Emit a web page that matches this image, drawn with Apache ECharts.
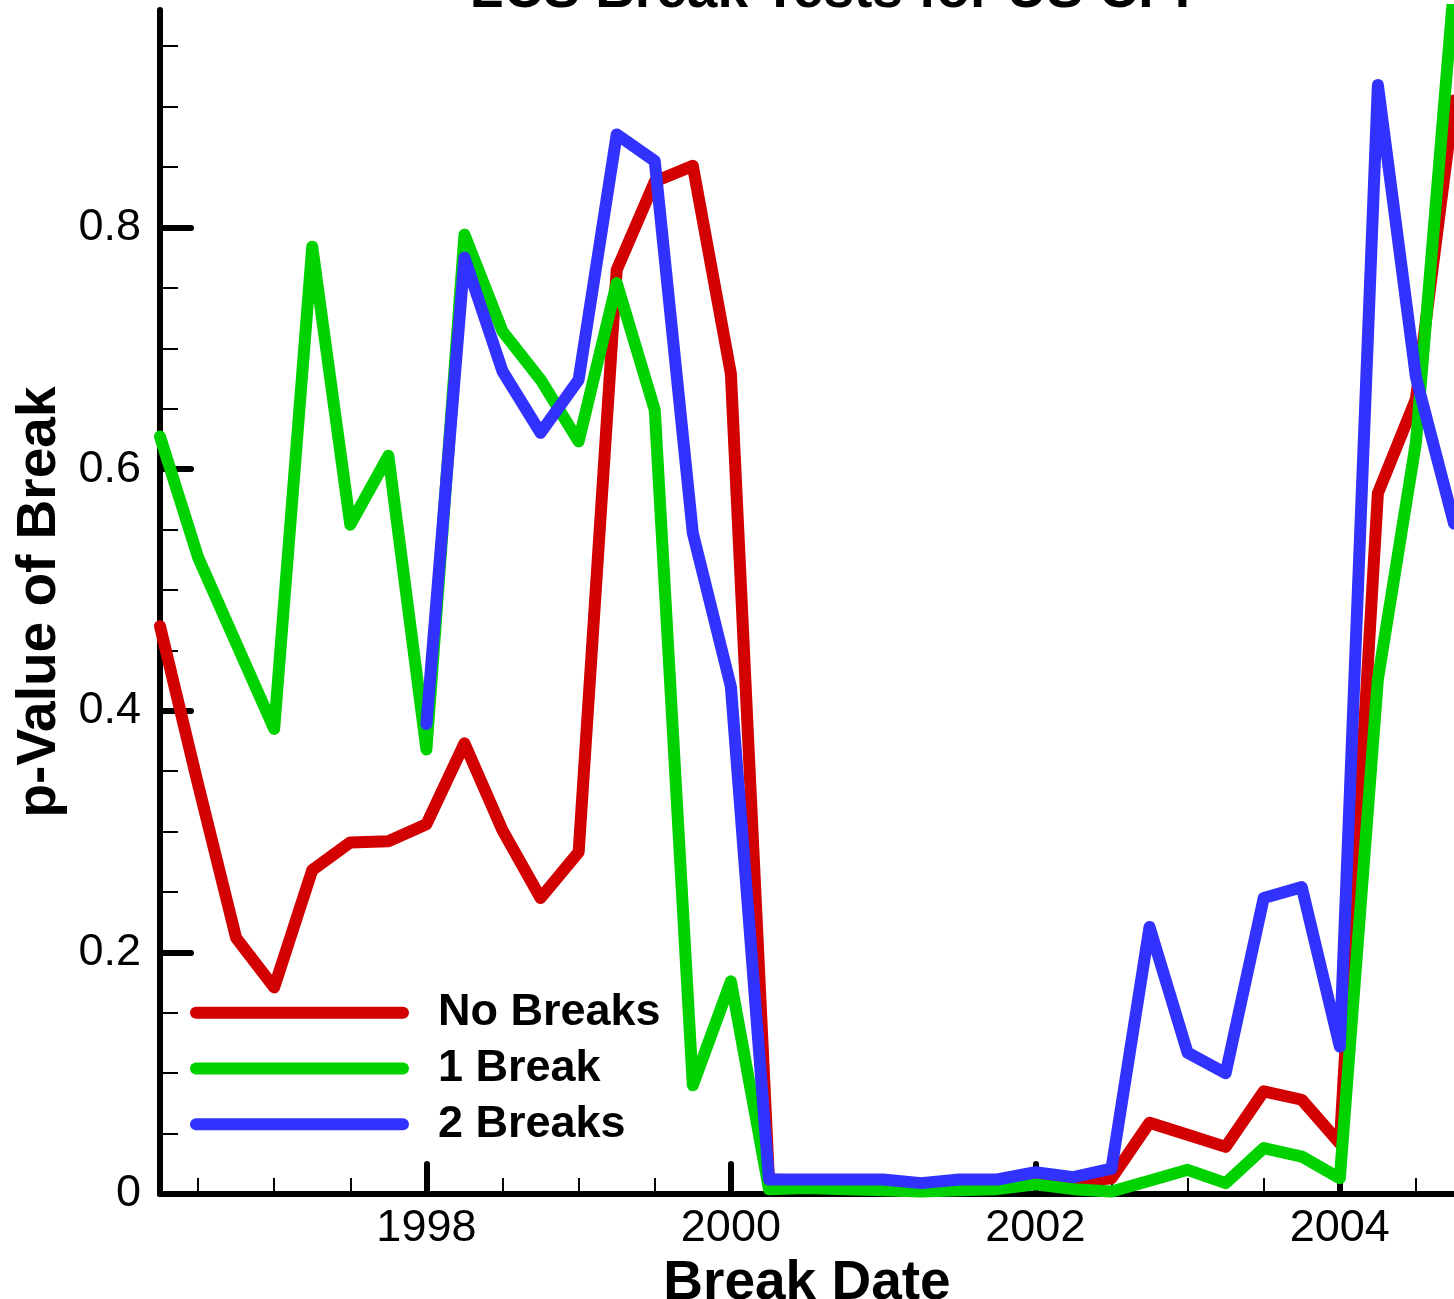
<!DOCTYPE html>
<html>
<head>
<meta charset="utf-8">
<title>LCS Break Tests for US CPI</title>
<script src="https://cdn.jsdelivr.net/npm/echarts@6/dist/echarts.min.js"></script>
<style>
  html, body { margin: 0; padding: 0; background: #ffffff; }
  #chart { width: 1454px; height: 1299px; }
</style>
</head>
<body>
<div id="chart"></div>
<script>
// Quarterly break dates
const breakDates = [
  1996.25, 1996.5, 1996.75, 1997.0, 1997.25, 1997.5, 1997.75,
  1998.0, 1998.25, 1998.5, 1998.75, 1999.0, 1999.25, 1999.5, 1999.75,
  2000.0, 2000.25, 2000.5, 2000.75, 2001.0, 2001.25, 2001.5, 2001.75,
  2002.0, 2002.25, 2002.5, 2002.75, 2003.0, 2003.25, 2003.5, 2003.75,
  2004.0, 2004.25, 2004.5, 2004.75
];

// p-values, no breaks allowed under the null
const noBreaks = [
  0.470, 0.339, 0.212, 0.171, 0.268, 0.291, 0.292,
  0.306, 0.373, 0.301, 0.245, 0.283, 0.765, 0.838, 0.851,
  0.679, 0.012, 0.011, 0.010, 0.009, 0.007, 0.009, 0.009,
  0.013, 0.010, 0.013, 0.059, 0.049, 0.039, 0.085, 0.078,
  0.042, 0.580, 0.658, 0.905
];

// p-values, one break allowed
const oneBreak = [
  0.627, 0.527, 0.456, 0.385, 0.784, 0.554, 0.611,
  0.368, 0.794, 0.714, 0.674, 0.623, 0.754, 0.649, 0.090,
  0.176, 0.004, 0.005, 0.004, 0.003, 0.002, 0.003, 0.004,
  0.008, 0.004, 0.002, 0.011, 0.020, 0.009, 0.038, 0.031,
  0.013, 0.426, 0.622, 1.000
];

// p-values, two breaks allowed (available from 1998 on)
const twoBreaksStart = 1998.0;
const twoBreaks = [
  0.389, 0.775, 0.681, 0.630, 0.674, 0.877, 0.855, 0.547,
  0.420, 0.012, 0.012, 0.012, 0.012, 0.009, 0.012, 0.012,
  0.018, 0.014, 0.021, 0.221, 0.117, 0.100, 0.245, 0.254,
  0.122, 0.918, 0.676, 0.555
];

// Axis ticks and labels
const xLabelYears = [1998, 2000, 2002, 2004];
const xMinorTicks = [1996.5, 1997, 1997.5, 1998.5, 1999, 1999.5, 2000.5, 2001, 2001.5,
                     2002.5, 2003, 2003.5, 2004.5];
const yLabelValues = [0, 0.2, 0.4, 0.6, 0.8];
const yMinorTicks = [0.05, 0.1, 0.15, 0.25, 0.3, 0.35, 0.45, 0.5, 0.55,
                     0.65, 0.7, 0.75, 0.85, 0.9, 0.95];

const FONT = '"Liberation Sans", Arial, Helvetica, sans-serif';

function pairs(xs, ys) {
  return ys.map((v, i) => [xs[i], v]);
}
const twoBreakDates = breakDates.slice(breakDates.indexOf(twoBreaksStart));

// Rounded-end stroke used as the legend key
const capsule = 'path://M6,0H213A6,6,0,0,1,213,12H6A6,6,0,0,1,6,0Z';

function lineSeries(name, color, data) {
  return {
    name: name,
    type: 'line',
    xAxisIndex: 0,
    yAxisIndex: 0,
    data: data,
    showSymbol: false,
    symbol: 'none',
    clip: true,
    color: color,
    lineStyle: { color: color, width: 12, cap: 'round', join: 'round' },
    emphasis: { disabled: true }
  };
}

const chart = echarts.init(document.getElementById('chart'), null, { renderer: 'canvas' });

const xMin = breakDates[0];
const xMax = breakDates[breakDates.length - 1];

chart.setOption({
  animation: false,
  backgroundColor: '#ffffff',
  title: {
    text: 'LCS Break Tests for US CPI',
    left: 830,
    top: -36,
    textAlign: 'center',
    padding: 0,
    textStyle: { fontFamily: FONT, fontSize: 55, fontWeight: 'bold', color: '#000' }
  },
  grid: {
    left: 160, right: 0, top: 10, bottom: 105,
    containLabel: false, outerBoundsMode: 'none'
  },
  legend: {
    orient: 'vertical',
    left: 190,
    top: 985,
    padding: 0,
    itemWidth: 219,
    itemHeight: 12,
    itemGap: 0,
    selectedMode: false,
    textStyle: {
      fontFamily: FONT, fontSize: 45, fontWeight: 'bold', color: '#000',
      lineHeight: 55.7, padding: [0, 0, 0, 24]
    },
    data: [
      { name: 'No Breaks', icon: capsule },
      { name: '1 Break', icon: capsule },
      { name: '2 Breaks', icon: capsule }
    ]
  },
  xAxis: [
    {
      type: 'value',
      min: xMin,
      max: xMax,
      position: 'bottom',
      name: 'Break Date',
      nameLocation: 'middle',
      nameGap: 42,
      nameTextStyle: { fontFamily: FONT, fontSize: 55, fontWeight: 'bold', color: '#000' },
      axisLine: { show: true, onZero: false, lineStyle: { color: '#000', width: 6, cap: 'round' } },
      axisTick: {
        show: true, inside: true, length: 30, customValues: xLabelYears,
        lineStyle: { color: '#000', width: 6, cap: 'round' }
      },
      axisLabel: {
        show: true, customValues: xLabelYears, margin: 12,
        fontFamily: FONT, fontSize: 45, color: '#000',
        formatter: v => String(Math.round(v))
      },
      splitLine: { show: false }
    },
    {
      type: 'value',
      min: xMin,
      max: xMax,
      position: 'bottom',
      axisLine: { show: false },
      axisTick: {
        show: true, inside: true, length: 16, customValues: xMinorTicks,
        lineStyle: { color: '#000', width: 2 }
      },
      axisLabel: { show: false },
      splitLine: { show: false }
    }
  ],
  yAxis: [
    {
      type: 'value',
      min: 0,
      max: 0.98,
      position: 'left',
      name: 'p-Value of Break',
      nameLocation: 'middle',
      nameGap: 93,
      nameTextStyle: { fontFamily: FONT, fontSize: 55, fontWeight: 'bold', color: '#000' },
      axisLine: { show: true, onZero: false, lineStyle: { color: '#000', width: 6, cap: 'round' } },
      axisTick: {
        show: true, inside: true, length: 31, customValues: yLabelValues,
        lineStyle: { color: '#000', width: 6, cap: 'round' }
      },
      axisLabel: {
        show: true, customValues: yLabelValues, margin: 19,
        fontFamily: FONT, fontSize: 45, color: '#000',
        formatter: v => String(Math.round(v * 10) / 10)
      },
      splitLine: { show: false }
    },
    {
      type: 'value',
      min: 0,
      max: 0.98,
      position: 'left',
      axisLine: { show: false },
      axisTick: {
        show: true, inside: true, length: 18, customValues: yMinorTicks,
        lineStyle: { color: '#000', width: 2 }
      },
      axisLabel: { show: false },
      splitLine: { show: false }
    }
  ],
  series: [
    lineSeries('No Breaks', '#d20000', pairs(breakDates, noBreaks)),
    lineSeries('1 Break', '#00d200', pairs(breakDates, oneBreak)),
    lineSeries('2 Breaks', '#3232ff', pairs(twoBreakDates, twoBreaks))
  ]
});
</script>
</body>
</html>
